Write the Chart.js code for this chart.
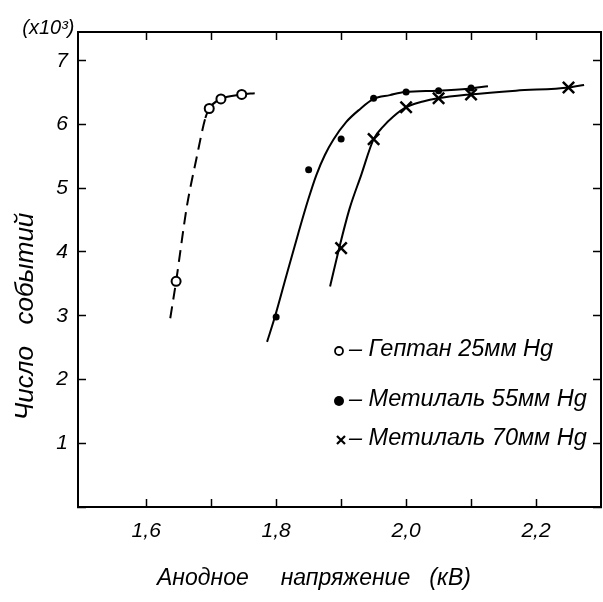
<!DOCTYPE html>
<html>
<head>
<meta charset="utf-8">
<script src="https://cdn.jsdelivr.net/npm/chart.js@4/dist/chart.umd.min.js"></script>
<style>
html,body{margin:0;padding:0;background:#fff;}
#wrap{width:603px;height:602px;position:relative;}
</style>
</head>
<body>
<div id="wrap"><canvas id="c"></canvas></div>
<script>
// ---- data ----
const heptaneX = [1.646, 1.697, 1.715, 1.747];
const heptaneY = [3.54, 6.25, 6.40, 6.47];
const meth55X = [1.80, 1.85, 1.90, 1.95, 2.00, 2.05, 2.10];
const meth55Y = [2.98, 5.29, 5.77, 6.41, 6.51, 6.53, 6.57];
const meth70X = [1.90, 1.95, 2.00, 2.05, 2.10, 2.25];
const meth70Y = [4.06, 5.77, 6.27, 6.41, 6.47, 6.58];

// hand-drawn curves through the points
const heptaneCurveX = [1.637, 1.646, 1.6625, 1.677, 1.691, 1.697, 1.715, 1.747, 1.767];
const heptaneCurveY = [2.96, 3.54, 4.71, 5.45, 6.10, 6.25, 6.40, 6.47, 6.49];
const meth55CurveX = [1.786, 1.798, 1.816, 1.834, 1.849, 1.862, 1.875, 1.888, 1.908, 1.929, 1.950, 1.975, 1.998, 2.048, 2.096, 2.126];
const meth55CurveY = [2.59, 2.98, 3.64, 4.29, 4.81, 5.21, 5.52, 5.76, 6.04, 6.24, 6.40, 6.46, 6.51, 6.53, 6.56, 6.60];
const meth70CurveX = [1.883, 1.897, 1.913, 1.931, 1.950, 1.965, 1.980, 2.000, 2.026, 2.049, 2.098, 2.169, 2.251, 2.274];
const meth70CurveY = [3.46, 4.06, 4.68, 5.21, 5.77, 5.97, 6.12, 6.27, 6.36, 6.41, 6.47, 6.53, 6.58, 6.62];

const legendLabels = ['Гептан 25мм Hg', 'Метилаль 55мм Hg', 'Метилаль 70мм Hg'];
const xTitle = 'Анодное     напряжение   (кВ)';
const yTitle = 'Число   событий';
const unitLabel = '(x10³)';

const xMin = 1.495, xMax = 2.3, yMin = 0, yMax = 7.45;

const pts = (xs, ys) => xs.map((x, i) => ({x: x, y: ys[i]}));

const FONT = "'Liberation Sans', 'DejaVu Sans', sans-serif";
Chart.defaults.font.family = FONT;
Chart.defaults.color = '#000';

const legendPlugin = {
  id: 'handLegend',
  afterDraw(chart) {
    const ctx = chart.ctx;
    const a = chart.chartArea;
    const rows = [a.top + 317, a.top + 367, a.top + 406];
    const mx = a.left + 261;
    ctx.save();
    ctx.fillStyle = '#000';
    ctx.strokeStyle = '#000';
    // open circle
    ctx.lineWidth = 1.8;
    ctx.beginPath(); ctx.arc(mx, rows[0] + 2, 4, 0, Math.PI * 2);
    ctx.fillStyle = '#fff'; ctx.fill(); ctx.stroke();
    // filled circle
    ctx.fillStyle = '#000';
    ctx.beginPath(); ctx.arc(mx, rows[1] + 2, 5, 0, Math.PI * 2); ctx.fill();
    // cross
    ctx.lineWidth = 2.2;
    const r = 4;
    const cy = rows[2] + 2, cx = mx + 2;
    ctx.beginPath();
    ctx.moveTo(cx - r, cy - r); ctx.lineTo(cx + r, cy + r);
    ctx.moveTo(cx + r, cy - r); ctx.lineTo(cx - r, cy + r);
    ctx.stroke();
    ctx.font = 'italic 23.5px ' + FONT;
    ctx.textBaseline = 'middle';
    ctx.textAlign = 'left';
    legendLabels.forEach((t, i) => {
      ctx.fillText('– ' + t, mx + 10, rows[i]);
    });
    ctx.restore();
  }
};

const tickCommon = {
  drawOnChartArea: false,
  tickLength: -8,
  tickWidth: 1.5,
  color: '#000'
};
const xTickGrid = Object.assign({}, tickCommon, {
  tickColor: c => (c.tick && Math.round(c.tick.value * 10) === 15 ? 'rgba(0,0,0,0)' : '#000')
});
const borderCommon = {color: '#000', width: 2};
const noPad = s => { s.paddingLeft = 0; s.paddingRight = 0; s.paddingTop = 0; s.paddingBottom = 0; };

new Chart(document.getElementById('c'), {
  type: 'scatter',
  data: {
    datasets: [
      {label: 'Гептан', data: pts(heptaneX, heptaneY), pointStyle: 'circle', pointRadius: 4.5,
       borderColor: '#000', backgroundColor: '#fff', pointBorderWidth: 2, order: 1},
      {label: 'Метилаль 55', data: pts(meth55X, meth55Y), pointStyle: 'circle', pointRadius: 3.5,
       borderColor: '#000', backgroundColor: '#000', pointBorderWidth: 0, order: 1},
      {label: 'Метилаль 70', data: pts(meth70X, meth70Y), pointStyle: 'crossRot', pointRadius: 8,
       borderColor: '#000', backgroundColor: '#000', pointBorderWidth: 2.5, order: 1},
      {label: 'curve1', data: pts(heptaneCurveX, heptaneCurveY), showLine: true, pointRadius: 0,
       borderColor: '#000', borderWidth: 2, cubicInterpolationMode: 'monotone', order: 2,
       segment: {borderDash: c => (c.p0.parsed.x < 1.69 ? [12, 7] : undefined)}},
      {label: 'curve2', data: pts(meth55CurveX, meth55CurveY), showLine: true, pointRadius: 0,
       borderColor: '#000', borderWidth: 2, cubicInterpolationMode: 'monotone', order: 2},
      {label: 'curve3', data: pts(meth70CurveX, meth70CurveY), showLine: true, pointRadius: 0,
       borderColor: '#000', borderWidth: 2, cubicInterpolationMode: 'monotone', order: 2}
    ]
  },
  options: {
    responsive: true,
    maintainAspectRatio: false,
    animation: false,
    events: [],
    layout: {padding: 0, autoPadding: false},
    plugins: {
      legend: {display: false},
      tooltip: {enabled: false},
      title: {
        display: true, text: '    ' + unitLabel, align: 'start',
        font: {family: FONT, style: 'italic', size: 20, weight: 'normal'},
        padding: {top: 16, bottom: -8}, color: '#000'
      }
    },
    scales: {
      x: {
        type: 'linear', position: 'bottom', min: xMin, max: xMax,
        afterFit: s => { s.height = 95; noPad(s); },
        ticks: {
          stepSize: 0.1, includeBounds: false, autoSkip: false, maxRotation: 0, padding: 20,
          font: {family: FONT, style: 'italic', size: 21},
          callback: v => {
            const k = Math.round(v * 10);
            return (k % 2 === 0 && k >= 16 && k <= 22) ? (k / 10).toFixed(1).replace('.', ',') : '';
          }
        },
        grid: xTickGrid, border: borderCommon,
        title: {display: true, text: xTitle + '        ', font: {family: FONT, style: 'italic', size: 23},
                padding: {top: 0, bottom: 10}, color: '#000'}
      },
      x2: {
        type: 'linear', position: 'top', min: xMin, max: xMax,
        afterFit: s => { s.height = 0; noPad(s); },
        ticks: {display: false, stepSize: 0.1, includeBounds: false},
        grid: xTickGrid, border: borderCommon
      },
      y: {
        type: 'linear', position: 'left', min: yMin, max: yMax,
        afterFit: s => { s.width = 78; noPad(s); },
        ticks: {
          stepSize: 1, includeBounds: false, padding: 18,
          font: {family: FONT, style: 'italic', size: 21},
          callback: v => (v === 0 ? '' : String(v))
        },
        grid: tickCommon, border: borderCommon,
        title: {display: true, text: yTitle + '             ', font: {family: FONT, style: 'italic', size: 26},
                padding: {top: 10, bottom: 0}, color: '#000'}
      },
      y2: {
        type: 'linear', position: 'right', min: yMin, max: yMax,
        afterFit: s => { s.width = 2; noPad(s); },
        ticks: {display: false, stepSize: 1, includeBounds: false},
        grid: tickCommon, border: borderCommon
      }
    }
  },
  plugins: [legendPlugin]
});
</script>
</body>
</html>
